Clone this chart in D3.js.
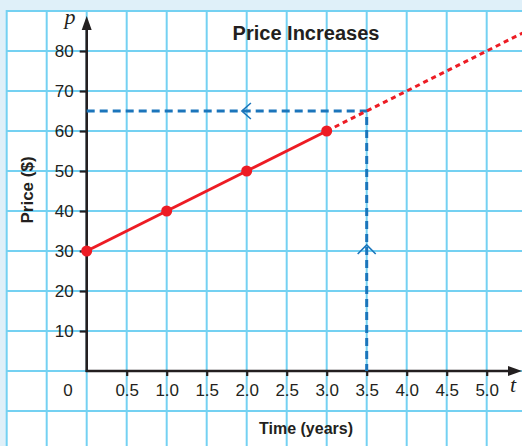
<!DOCTYPE html>
<html><head><meta charset="utf-8">
<script src="https://cdn.jsdelivr.net/npm/d3@7"></script>
<style>
html,body{margin:0;padding:0;background:#dff0f9;}
svg{display:block;}
text{font-family:"Liberation Sans Narrow","Liberation Sans",sans-serif;fill:#231f20;}
</style></head><body>
<svg id="chart" width="522" height="446"></svg>
<script>
// ---- data ----
const years = [0, 1, 2, 3];
const prices = [30, 40, 50, 60];
const extendTo = 5.5;                 // dotted trend continues past the plot
const readYear = 3.5;                 // value
const readPrice = 65;
const xTickValues = [0.5, 1.0, 1.5, 2.0, 2.5, 3.0, 3.5, 4.0, 4.5, 5.0];
const yTickValues = [10, 20, 30, 40, 50, 60, 70, 80];
const xGridValues = [-1, -0.5, 0, 0.5, 1, 1.5, 2, 2.5, 3, 3.5, 4, 4.5, 5, 5.5];
const yGridValues = [-20, -10, 0, 10, 20, 30, 40, 50, 60, 70, 80, 90];
const arrowOnHorizontal = 1.94;       // t position of the "<" chevron
const arrowOnVertical = 31.5;         // p position of the "^" chevron
const title = "Price Increases";
const xTitle = "Time (years)";
const yTitle = "Price ($)";

const W = 522, H = 446;
const svg = d3.select("#chart");
const x = d3.scaleLinear().domain([0, 5]).range([86.7, 486.7]);
const y = d3.scaleLinear().domain([0, 80]).range([371, 51]);

const gridColor = "#74d1f2";
const blue = "#1b75bb";
const red = "#ed1c24";

// background + grid paper
svg.append("rect").attr("x", 0).attr("y", 0).attr("width", W).attr("height", H).attr("fill", "#dff0f9");
svg.append("rect").attr("x", 6).attr("y", 10).attr("width", W - 6).attr("height", H - 10).attr("fill", "#fff");

const grid = svg.append("g");
grid.selectAll("line.v").data(xGridValues).join("line")
  .attr("x1", d => x(d)).attr("x2", d => x(d)).attr("y1", 10).attr("y2", H)
  .attr("stroke", gridColor).attr("stroke-width", 2);
grid.selectAll("line.h").data(yGridValues).join("line")
  .attr("y1", d => y(d)).attr("y2", d => y(d)).attr("x1", 6).attr("x2", W)
  .attr("stroke", gridColor).attr("stroke-width", 2);

// title
svg.append("text").attr("x", 306).attr("y", 40).attr("text-anchor", "middle")
  .attr("font-size", 20).attr("font-weight", "bold").text(title);

// axes
const xAxis = svg.append("g").attr("transform", `translate(0,${y(0)})`)
  .call(d3.axisBottom(x).tickValues(xTickValues).tickFormat(d3.format(".1f")).tickSize(5).tickPadding(8));
const yAxis = svg.append("g").attr("transform", `translate(${x(0)},0)`)
  .call(d3.axisLeft(y).tickValues(yTickValues).tickSize(7).tickPadding(6));
[xAxis, yAxis].forEach(g => {
  g.select(".domain").remove();
  g.selectAll(".tick line").attr("stroke", "#231f20").attr("stroke-width", 2.2);
  g.selectAll(".tick text").attr("font-size", 17).attr("fill", "#231f20")
    .style("font-family", '"Liberation Sans Narrow","Liberation Sans",sans-serif');
});

// axis lines with arrowheads
svg.append("line").attr("x1", x(0)).attr("x2", x(0)).attr("y1", y(0) + 1).attr("y2", 26)
  .attr("stroke", "#231f20").attr("stroke-width", 2.6);
svg.append("path").attr("d", `M${x(0)},16 L${x(0) - 5},30 L${x(0) + 5},30 Z`).attr("fill", "#231f20");
svg.append("line").attr("x1", x(0) - 1).attr("x2", 512).attr("y1", y(0)).attr("y2", y(0))
  .attr("stroke", "#231f20").attr("stroke-width", 2.6);
svg.append("path").attr("d", `M522,${y(0)} L508,${y(0) - 5} L508,${y(0) + 5} Z`).attr("fill", "#231f20");

// "0" label and axis variable letters
svg.append("text").attr("x", 68).attr("y", 396).attr("text-anchor", "middle").attr("font-size", 17).text("0");
svg.append("text").attr("x", 70).attr("y", 24).attr("text-anchor", "middle").attr("font-size", 22)
  .attr("font-style", "italic").style("font-family", '"Liberation Serif","DejaVu Serif",serif').text("p");
svg.append("text").attr("x", 513).attr("y", 392).attr("text-anchor", "middle").attr("font-size", 22)
  .attr("font-style", "italic").style("font-family", '"Liberation Serif","DejaVu Serif",serif').text("t");

// axis titles
svg.append("text").attr("x", 306).attr("y", 434).attr("text-anchor", "middle")
  .attr("font-size", 16).attr("font-weight", "bold").text(xTitle);
svg.append("text").attr("transform", "translate(33,190) rotate(-90)").attr("text-anchor", "middle")
  .attr("font-size", 17).attr("font-weight", "bold").text(yTitle);

// blue dashed read-off lines
svg.append("path")
  .attr("d", d3.line()([[x(0), y(readPrice)], [x(readYear), y(readPrice)], [x(readYear), y(0)]]))
  .attr("fill", "none").attr("stroke", blue).attr("stroke-width", 3).attr("stroke-dasharray", "8,5");
const hx = x(arrowOnHorizontal), hy = y(readPrice);
svg.append("path").attr("d", `M${hx + 9},${hy - 8} L${hx},${hy} L${hx + 9},${hy + 8}`)
  .attr("fill", "none").attr("stroke", blue).attr("stroke-width", 1.6);
const vx = x(readYear), vy = y(arrowOnVertical);
svg.append("path").attr("d", `M${vx - 9},${vy + 9} L${vx},${vy} L${vx + 9},${vy + 9}`)
  .attr("fill", "none").attr("stroke", blue).attr("stroke-width", 1.6);

// red data line + dotted extension
const pts = years.map((t, i) => [t, prices[i]]);
const slope = (prices[3] - prices[0]) / (years[3] - years[0]);
const lastT = years[years.length - 1], lastP = prices[prices.length - 1];
const line = d3.line().x(d => x(d[0])).y(d => y(d[1]));
svg.append("path").datum([[lastT, lastP], [extendTo, lastP + slope * (extendTo - lastT)]]).attr("d", line)
  .attr("fill", "none").attr("stroke", red).attr("stroke-width", 3).attr("stroke-dasharray", "5,4");
svg.append("path").datum(pts).attr("d", line)
  .attr("fill", "none").attr("stroke", red).attr("stroke-width", 3);
svg.selectAll("circle.pt").data(pts).join("circle")
  .attr("cx", d => x(d[0])).attr("cy", d => y(d[1])).attr("r", 5.5).attr("fill", red);
</script></body></html>
